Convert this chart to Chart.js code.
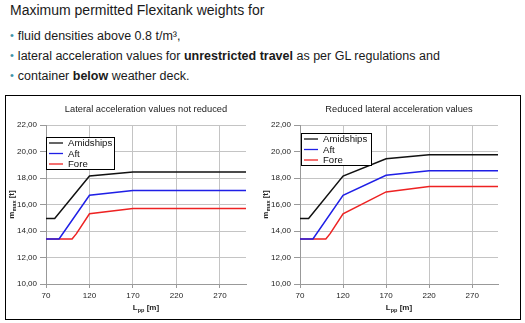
<!DOCTYPE html>
<html>
<head>
<meta charset="utf-8">
<script src="https://cdn.jsdelivr.net/npm/chart.js@4.4.1/dist/chart.umd.min.js"></script>
<style>
  html, body { margin: 0; padding: 0; background: #fff; }
  body { width: 525px; height: 323px; position: relative; overflow: hidden;
         font-family: "Liberation Sans", Arial, sans-serif; color: #1a1a1a; }
  .head { position: absolute; left: 10px; top: 3px; font-size: 14px; line-height: 14px; white-space: nowrap; }
  .bul { position: absolute; left: 10px; font-size: 12.5px; line-height: 13px; white-space: nowrap; }
  .bul .dot { color: #3f93a8; font-size: 11px; margin-right: 4px; position: relative; top: -1px; }
  .frame { position: absolute; left: 5px; top: 95px; width: 514px; height: 223px; border: 1px solid #000; }
  canvas { position: absolute; }
</style>
</head>
<body>
<div class="head">Maximum permitted Flexitank weights for</div>
<div class="bul" style="top:30px"><span class="dot">&#8226;</span>fluid densities above 0.8 t/m³,</div>
<div class="bul" style="top:50px"><span class="dot">&#8226;</span>lateral acceleration values for <b>unrestricted travel</b> as per GL regulations and</div>
<div class="bul" style="top:70px"><span class="dot">&#8226;</span>container <b>below</b> weather deck.</div>
<div class="frame"></div>
<canvas id="left" width="250" height="222" style="left:6px;top:96px"></canvas>
<canvas id="right" width="256" height="222" style="left:263px;top:96px"></canvas>
<script>
// Lpp [m] break points and m_max [t] per position
const amidshipsX = [70, 80, 120, 170, 300];
const amidshipsFull = [14.95, 14.95, 18.15, 18.45, 18.45];
const aftX = [70, 85, 120, 170, 300];
const aftFull = [13.4, 13.4, 16.7, 17.05, 17.05];
const foreX = [70, 100, 105, 120, 170, 300];
const foreFull = [13.4, 13.4, 13.8, 15.3, 15.7, 15.7];

const amidshipsXRed = [70, 80, 120, 170, 220, 300];
const amidshipsRed = [14.95, 14.95, 18.15, 19.45, 19.75, 19.75];
const aftXRed = [70, 85, 120, 170, 220, 300];
const aftRed = [13.4, 13.4, 16.7, 18.2, 18.55, 18.55];
const foreXRed = [70, 100, 105, 120, 170, 220, 300];
const foreRed = [13.4, 13.4, 13.8, 15.3, 16.95, 17.35, 17.35];

const xTicks = [70, 120, 170, 220, 270];
const yTicks = [10, 12, 14, 16, 18, 20, 22];

const FONT = '"Liberation Sans", Arial, sans-serif';
Chart.defaults.font.family = FONT;
Chart.defaults.color = '#222';

const pts = (xs, ys) => xs.map((x, i) => ({ x, y: ys[i] }));

// text with a subscript part, centred on cx
function subText(ctx, main, sub, rest, cx, y) {
  ctx.font = 'bold 8px ' + FONT;
  const w1 = ctx.measureText(main).width;
  const w3 = ctx.measureText(rest).width;
  ctx.font = 'bold 5.5px ' + FONT;
  const w2 = ctx.measureText(sub).width;
  let x = cx - (w1 + w2 + w3) / 2;
  ctx.textAlign = 'left';
  ctx.textBaseline = 'alphabetic';
  ctx.font = 'bold 8px ' + FONT;
  ctx.fillText(main, x, y);
  x += w1;
  ctx.font = 'bold 5.5px ' + FONT;
  ctx.fillText(sub, x, y + 1.5);
  x += w2;
  ctx.font = 'bold 8px ' + FONT;
  ctx.fillText(rest, x, y);
}

const decor = {
  id: 'decor',
  afterDraw(chart, args, opts) {
    const { ctx, chartArea: a } = chart;
    const cx = (a.left + a.right) / 2;
    ctx.save();
    ctx.fillStyle = '#222';
    ctx.font = '9.3px ' + FONT;
    ctx.textAlign = 'center';
    ctx.textBaseline = 'middle';
    ctx.fillText(opts.title, cx, a.top - 16);

    subText(ctx, 'L', 'pp', ' [m]', cx, a.bottom + 26);
    ctx.save();
    ctx.translate(a.left - 32, (a.top + a.bottom) / 2);
    ctx.rotate(-Math.PI / 2);
    subText(ctx, 'm', 'max', ' [t]', 0, 0);
    ctx.restore();

    // legend box inside the plot
    const bx = Math.round(a.left + opts.legendX), by = Math.round(a.top + opts.legendY);
    ctx.fillStyle = '#fff';
    ctx.fillRect(bx, by, opts.legendW, 32);
    ctx.strokeStyle = '#000';
    ctx.lineWidth = 1;
    ctx.strokeRect(bx + 0.5, by + 0.5, opts.legendW, 32);
    ctx.font = '9.6px ' + FONT;
    ctx.textAlign = 'left';
    ctx.textBaseline = 'middle';
    chart.data.datasets.forEach((ds, i) => {
      const ly = by + 6 + i * 10.5;
      ctx.strokeStyle = ds.borderColor;
      ctx.lineWidth = 1.3;
      ctx.beginPath();
      ctx.moveTo(bx + 3, ly);
      ctx.lineTo(bx + 17, ly);
      ctx.stroke();
      ctx.fillStyle = '#111';
      ctx.fillText(ds.label, bx + 22, ly + 0.5);
    });
    ctx.restore();
  }
};

function makeChart(id, series, pad, decorOpts) {
  const colors = ['#111111', '#1f1fe6', '#ee2222'];
  const labels = ['Amidships', 'Aft', 'Fore'];
  return new Chart(document.getElementById(id), {
    type: 'line',
    data: {
      datasets: series.map((s, i) => ({
        label: labels[i],
        data: pts(s[0], s[1]),
        borderColor: colors[i],
        borderWidth: 1.5,
        pointRadius: 0,
        tension: 0,
        fill: false
      }))
    },
    options: {
      responsive: false,
      animation: false,
      devicePixelRatio: 1,
      layout: { padding: pad },
      plugins: { legend: { display: false }, title: { display: false }, tooltip: { enabled: false }, decor: decorOpts },
      scales: {
        x: {
          type: 'linear', min: 70, max: 300,
          afterBuildTicks: (s) => { s.ticks = xTicks.map((v) => ({ value: v })); },
          afterFit: (s) => { s.height = 34; },
          grid: { color: '#c4c4c4', tickLength: 4, tickColor: '#999' },
          border: { color: '#999' },
          ticks: { font: { size: 8 }, padding: 3, maxRotation: 0 }
        },
        y: {
          min: 10, max: 22,
          afterBuildTicks: (s) => { s.ticks = yTicks.map((v) => ({ value: v })); },
          afterFit: (s) => { s.width = 35; },
          grid: { color: '#c4c4c4', tickLength: 6, tickColor: '#999' },
          border: { color: '#999' },
          ticks: { font: { size: 8 }, padding: 3, callback: (v) => v.toFixed(2).replace('.', ',') }
        }
      }
    },
    plugins: [decor]
  });
}

makeChart('left',
  [[amidshipsX, amidshipsFull], [aftX, aftFull], [foreX, foreFull]],
  { top: 29, left: 5, right: 10, bottom: 0 },
  { title: 'Lateral acceleration values not reduced', legendX: 0, legendY: 12, legendW: 68 });

makeChart('right',
  [[amidshipsXRed, amidshipsRed], [aftXRed, aftRed], [foreXRed, foreRed]],
  { top: 29, left: 2, right: 21, bottom: 0 },
  { title: 'Reduced lateral acceleration values', legendX: 1, legendY: 8, legendW: 70 });
</script>
</body>
</html>
